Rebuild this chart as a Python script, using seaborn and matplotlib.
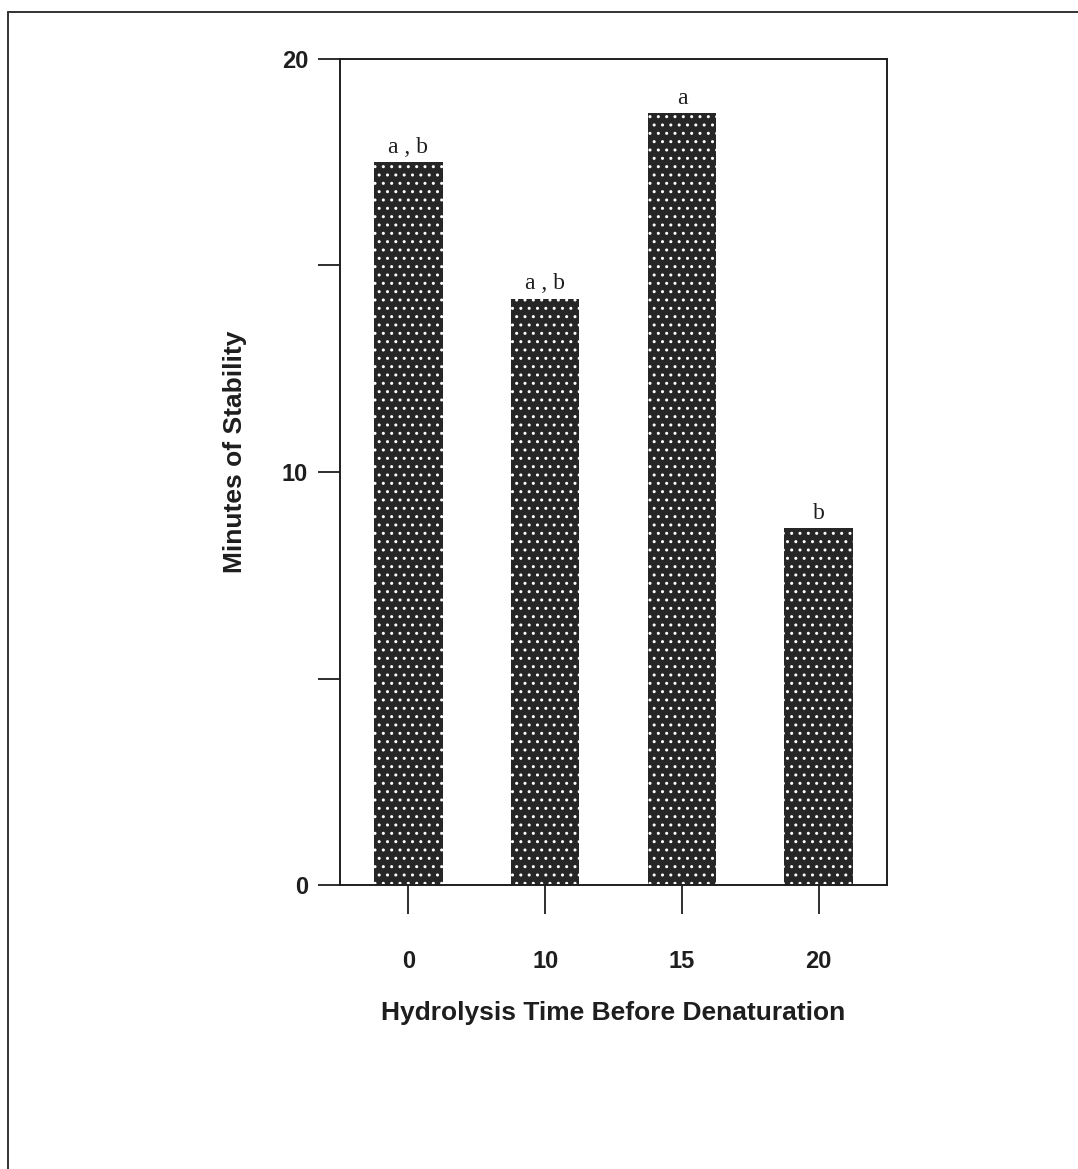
import matplotlib
matplotlib.use("Agg")
import matplotlib.pyplot as plt
import seaborn as sns
import pandas as pd
from matplotlib.lines import Line2D

categories = ["0", "10", "15", "20"]
values = [17.5, 14.2, 18.7, 8.65]
letters = ["a , b", "a , b", "a", "b"]
ytick_values = [0, 5, 10, 15, 20]
ytick_labels = ["0", "", "10", "", "20"]

sns.set_theme(style="white")
plt.rcParams["font.family"] = ["Liberation Sans", "DejaVu Sans"]
plt.rcParams["hatch.color"] = "white"
plt.rcParams["hatch.linewidth"] = 1.0

INK = "#1e1e1e"
W, H = 1078, 1169
fig = plt.figure(figsize=(W / 100, H / 100), dpi=100)
fig.patch.set_facecolor("white")
ax = fig.add_axes([340 / W, (H - 885) / H, 547 / W, 826 / H])

df = pd.DataFrame({"time": categories, "minutes": values})
sns.barplot(data=df, x="time", y="minutes", order=categories, color="#2b2b2b",
            width=0.5, ax=ax, saturation=1)
for p in ax.patches:
    p.set_facecolor("#262626")
    p.set_edgecolor("white")
    p.set_hatch("..")
    p.set_linewidth(0)

ax.set_xlim(-0.5, 3.5)
ax.set_ylim(0, 20)
ax.set_yticks(ytick_values)
ax.set_yticklabels(ytick_labels)

for sp in ax.spines.values():
    sp.set_visible(True)
    sp.set_color(INK)
    sp.set_linewidth(1.4)

ax.tick_params(axis="y", direction="out", length=16, width=1.3, color=INK,
               pad=7, labelsize=17, left=True)
ax.tick_params(axis="x", direction="out", length=21, width=1.3, color=INK,
               pad=26, labelsize=17, bottom=True)
for lab in ax.get_xticklabels() + ax.get_yticklabels():
    lab.set_color(INK)
    lab.set_fontweight("bold")

ax.set_xlabel("Hydrolysis Time Before Denaturation", fontsize=19, color=INK,
              fontweight="bold", labelpad=20)
ax.set_ylabel("Minutes of Stability", fontsize=19, color=INK, fontweight="bold")
ax.yaxis.set_label_coords(-0.17, 0.525)

for i, (v, t) in enumerate(zip(values, letters)):
    ax.text(i, v + 0.22, t, ha="center", va="baseline", fontsize=17,
            family=["Liberation Serif", "DejaVu Serif"], color=INK)

# outer frame
fig.add_artist(Line2D([8 / W, 8 / W], [0, 1 - 12 / H], transform=fig.transFigure,
                      color="#333333", linewidth=1.4))
fig.add_artist(Line2D([8 / W, 1], [1 - 12 / H, 1 - 12 / H], transform=fig.transFigure,
                      color="#333333", linewidth=1.4))

fig.savefig("out.png", dpi=100, facecolor="white")
